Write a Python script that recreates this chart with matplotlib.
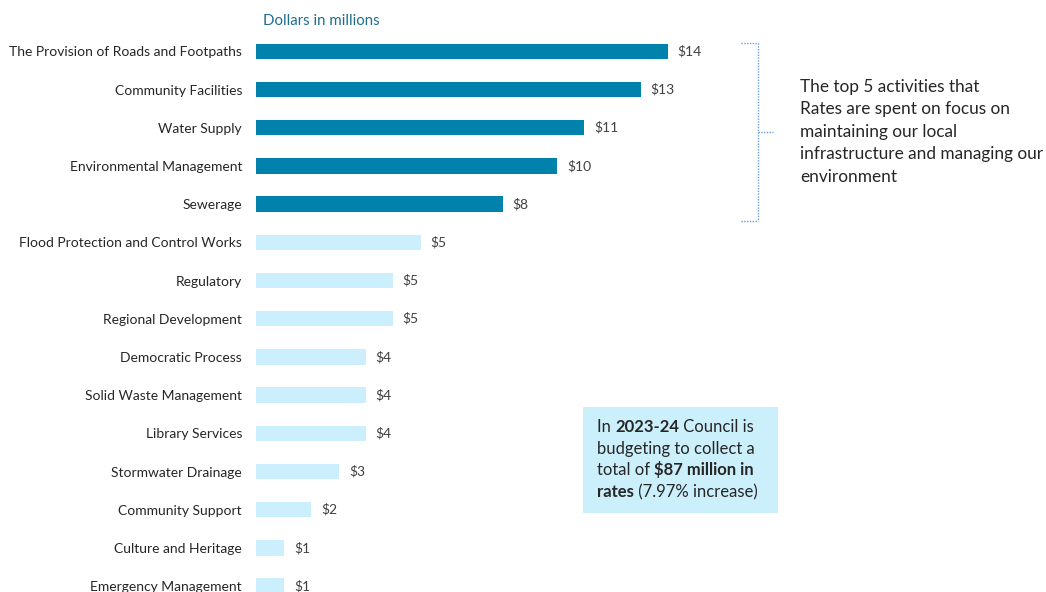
import matplotlib.pyplot as plt
from matplotlib.patches import Rectangle
from matplotlib.lines import Line2D

plt.rcParams['font.family'] = ['Lato', 'DejaVu Sans']

# Data (dollars in millions)
activities = ["The Provision of Roads and Footpaths", "Community Facilities", "Water Supply",
              "Environmental Management", "Sewerage", "Flood Protection and Control Works",
              "Regulatory", "Regional Development", "Democratic Process", "Solid Waste Management",
              "Library Services", "Stormwater Drainage", "Community Support",
              "Culture and Heritage", "Emergency Management"]
values = [13.96, 13.04, 11.13, 10.21, 8.36, 5.59, 4.64, 4.64, 3.73, 3.73, 3.73, 2.82, 1.87, 0.96, 0.96]
value_labels = ["$14", "$13", "$11", "$10", "$8", "$5", "$5", "$5", "$4", "$4", "$4", "$3", "$2", "$1", "$1"]
n_top = 5

dark = "#0082AD"
light = "#CBEFFC"
colors = [dark if i < n_top else light for i in range(len(values))]

W, H = 1046, 592
fig = plt.figure(figsize=(W / 100, H / 100), dpi=100)
ax = fig.add_axes([0.2447, -0.0223, 0.564, 0.9679])

pos = list(range(len(values)))
ax.barh(pos, values, height=0.4, color=colors)
ax.set_ylim(len(values) - 0.5, -0.5)
ax.set_xlim(0, 20)

ax.set_yticks(pos)
ax.set_yticklabels(activities, fontsize=10, color="#262626")
ax.tick_params(axis='y', length=0, pad=10)
ax.set_xticks([])
for s in ax.spines.values():
    s.set_visible(False)

for i, (v, lab) in enumerate(zip(values, value_labels)):
    ax.annotate(lab, (v, i), xytext=(7, 0), textcoords='offset points',
                va='center', ha='left', fontsize=10, color="#404040")

fig.text(263 / W, 1 - 21 / H, "Dollars in millions", fontsize=10.8,
         color="#1F6E8C", va='center', ha='left')

# bracket around top five
br = "#6A9FD8"
y_top, y_bot = -0.21, n_top - 1 + 0.43
y_mid = (y_top + y_bot) / 2
x0, x1, x2 = 16.44, 17.02, 17.53
for xs, ys in [([x0, x1], [y_top, y_top]), ([x1, x1], [y_top, y_bot]),
               ([x0, x1], [y_bot, y_bot]), ([x1, x2], [y_mid, y_mid])]:
    ax.add_line(Line2D(xs, ys, color=br, lw=1, ls=(0, (1, 1)), clip_on=False))

note = ["The top 5 activities that", "Rates are spent on focus on", "maintaining our local",
        "infrastructure and managing our", "environment"]
for k, line in enumerate(note):
    fig.text(800 / W, 1 - (91.7 + 22.6 * k) / H, line, fontsize=12.4,
             color="#262626", va='baseline', ha='left')

# summary box
fig.patches.append(Rectangle((583 / W, 1 - 513 / H), 195 / W, 106 / H,
                             transform=fig.transFigure, facecolor="#CCEFFC",
                             edgecolor="none", zorder=0))
lines = [[("In ", "normal"), ("2023-24", "bold"), (" Council is", "normal")],
         [("budgeting to collect a", "normal")],
         [("total of ", "normal"), ("$87 million in", "bold")],
         [("rates", "bold"), (" (7.97% increase)", "normal")]]
renderer = fig.canvas.get_renderer()
for k, parts in enumerate(lines):
    x = 597
    y = 1 - (432 + 21.7 * k) / H
    for txt, w in parts:
        t = fig.text(x / W, y, txt, fontsize=12, fontweight=w,
                     color="#262626", va='baseline', ha='left')
        x = t.get_window_extent(renderer).x1

fig.savefig("out.png", dpi=100)
